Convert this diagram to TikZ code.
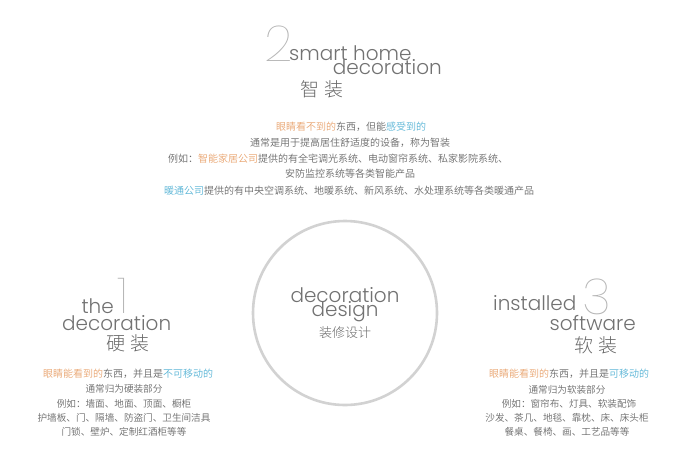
\documentclass[tikz,border=0pt]{standalone}
\usepackage{fontspec}
\IfFontExistsTF{Poppins Light}{\newfontfamily\thinfont{Poppins Light}}{\newfontfamily\thinfont{Poppins}}
\IfFontExistsTF{Poppins Thin}{\newfontfamily\numfont{Poppins Thin}}{\IfFontExistsTF{Poppins ExtraLight}{\newfontfamily\numfont{Poppins ExtraLight}}{\let\numfont\thinfont}}
\IfFontExistsTF{Noto Sans CJK SC Light}{\newfontfamily\cjktitle{Noto Sans CJK SC Light}}{\newfontfamily\cjktitle{Noto Sans CJK SC}}
\IfFontExistsTF{Noto Sans CJK SC DemiLight}{\newfontfamily\cjk{Noto Sans CJK SC DemiLight}}{\newfontfamily\cjk{Noto Sans CJK SC}}
\definecolor{txtgray}{HTML}{6A6A6A}
\definecolor{engray}{HTML}{727272}
\definecolor{numgray}{HTML}{B4B4B4}
\definecolor{ringgray}{HTML}{D2D2D2}
\definecolor{orng}{HTML}{E9A46F}
\definecolor{blu}{HTML}{58B4D6}
\newcommand{\ora}[1]{\textcolor{orng}{#1}}
\newcommand{\blu}[1]{\textcolor{blu}{#1}}
\begin{document}
\begin{tikzpicture}[x=1pt,y=-1pt,
  eng/.style={inner sep=0pt,text=engray,font=\thinfont\fontsize{20}{20}\selectfont},
  num/.style={inner sep=0pt,text=numgray,font=\numfont\fontsize{50}{50}\selectfont},
  title/.style={inner sep=0pt,text=txtgray,font=\cjktitle\fontsize{19}{19}\selectfont},
  body/.style={inner sep=0pt,text=txtgray,font=\cjk\fontsize{10}{10}\selectfont},
  small/.style={inner sep=0pt,text=txtgray,font=\cjk\fontsize{9.6}{9.6}\selectfont}]
\useasboundingbox[fill=white] (0,0) rectangle (700,474);
% top section
\node[num,anchor=base west] (n2) at (264,61) {2};
\node[eng,anchor=base west] (t2a) at (289,60) {smart home};
\node[eng,anchor=base east] (t2b) at (442,74) {decoration};
\node[title] (t2c) at (322,89) {智 装};
\node[body] (a1) at (351,127) {\ora{眼睛看不到的}东西，但能\blu{感受到的}};
\node[body] (a2) at (350,143) {通常是用于提高居住舒适度的设备，称为智装};
\node[body] (a3) at (338,159) {例如：\ora{智能家居公司}提供的有全宅调光系统、电动窗帘系统、私家影院系统、};
\node[body] (a4) at (350,174) {安防监控系统等各类智能产品};
\node[body] (a5) at (349,191) {\blu{暖通公司}提供的有中央空调系统、地暖系统、新风系统、水处理系统等各类暖通产品};
% circle
\node[draw=ringgray,line width=2.6pt,circle,minimum size=184pt,inner sep=0pt] (ring) at (345,313) {};
\node[eng,anchor=base] (c1) at (345,302) {decoration};
\node[eng,anchor=base] (c2) at (345,316) {design};
\node[title,font=\cjktitle\fontsize{13}{13}\selectfont] (c3) at (345,333) {装修设计};
% left section
\node[num,anchor=base west] (n1) at (117,313) {1};
\node[eng,anchor=base east] (l1) at (114,313) {the};
\node[eng,anchor=base west] (l2) at (62,330) {decoration};
\node[title] (l3) at (128,343) {硬 装};
\node[body] (b1) at (128,374) {\ora{眼睛能看到的}东西，并且是\blu{不可移动的}};
\node[small] (b2) at (124,389) {通常归为硬装部分};
\node[small] (b3) at (124,404) {例如：墙面、地面、顶面、橱柜};
\node[small] (b4) at (124,418) {护墙板、门、隔墙、防盗门、卫生间洁具};
\node[small] (b5) at (124,432) {门锁、壁炉、定制红酒柜等等};
% right section
\node[num,anchor=base west] (n3) at (582,314) {3};
\node[eng,anchor=base west] (r1) at (493,310) {installed};
\node[eng,anchor=base east] (r2) at (636,330) {software};
\node[title] (r3) at (596,345) {软 装};
\node[body] (d1) at (569,374) {\ora{眼睛能看到的}东西，并且是\blu{可移动的}};
\node[small] (d2) at (567,390) {通常归为软装部分};
\node[small] (d3) at (569,404) {例如：窗帘布、灯具、软装配饰};
\node[small] (d4) at (567,418) {沙发、茶几、地毯、靠枕、床、床头柜};
\node[small] (d5) at (567,432) {餐桌、餐椅、画、工艺品等等};
\end{tikzpicture}
\end{document}
